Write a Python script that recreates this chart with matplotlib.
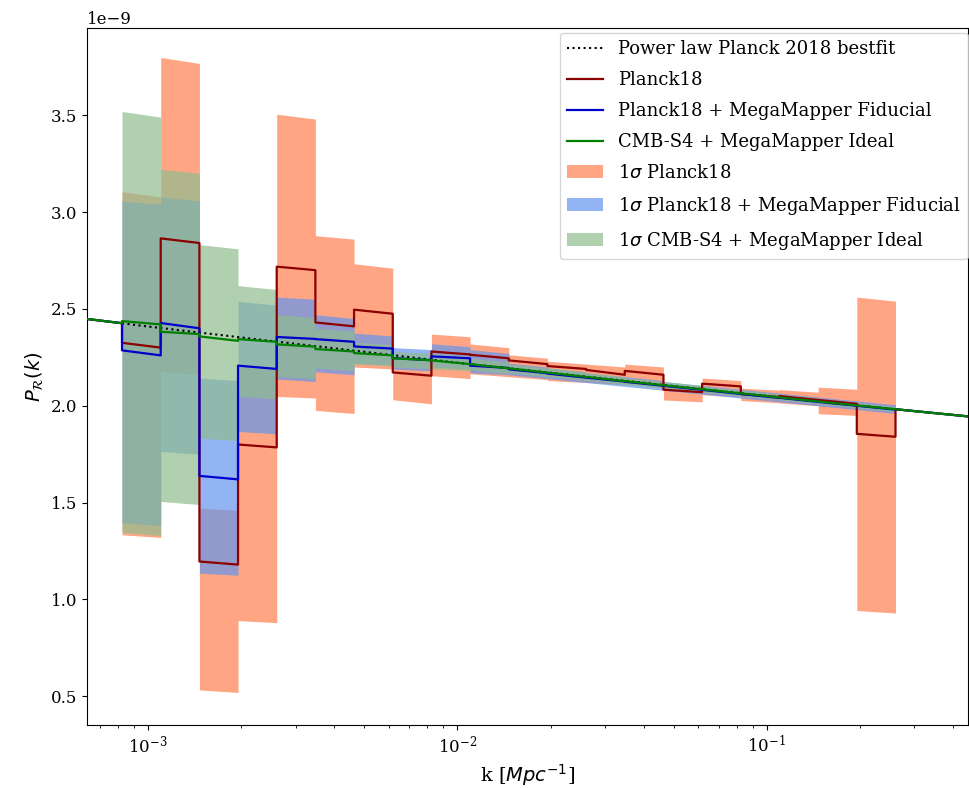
import numpy as np
import matplotlib
matplotlib.use("Agg")
import matplotlib.pyplot as plt

plt.rcParams['font.family'] = 'serif'
plt.rcParams['font.size'] = 12

# bin edges in k [1/Mpc]
k_edges = [8.241e-4, 1.099e-3, 1.466e-3, 1.954e-3, 2.606e-3, 3.475e-3, 4.634e-3,
           6.180e-3, 8.241e-3, 1.099e-2, 1.466e-2, 1.954e-2, 2.606e-2, 3.475e-2,
           4.634e-2, 6.180e-2, 8.241e-2, 0.1099, 0.1466, 0.1954, 0.2606]

# power law best fit, read at a few k values (units 1e-9)
k_fid = [6.35e-4, 8.241e-4, 1e-3, 1e-2, 1e-1, 0.2606, 0.447]
p_fid = [2.448, 2.426, 2.409, 2.222, 2.050, 1.982, 1.945]

# binned reconstructions, (left, right) value per bin, units 1e-9
planck_line = [(2.325, 2.300), (2.864, 2.840), (1.196, 1.180), (1.800, 1.785), (2.718, 2.700),
               (2.430, 2.410), (2.496, 2.475), (2.172, 2.155), (2.280, 2.265), (2.263, 2.245),
               (2.234, 2.215), (2.205, 2.190), (2.185, 2.160), (2.180, 2.160), (2.083, 2.070),
               (2.114, 2.100), (2.060, 2.045), (2.050, 2.030), (2.030, 2.010), (1.855, 1.840)]
mm_line = [(2.286, 2.260), (2.427, 2.400), (1.638, 1.620), (2.207, 2.190), (2.355, 2.345),
           (2.344, 2.330), (2.306, 2.295), (2.246, 2.235), (2.255, 2.245), (2.207, 2.195),
           (2.188, 2.168), (2.166, 2.145), (2.145, 2.125), (2.124, 2.103), (2.103, 2.082),
           (2.082, 2.061), (2.061, 2.040), (2.041, 2.020), (2.020, 2.000), (2.000, 1.980)]
s4_line = [(2.437, 2.420), (2.382, 2.370), (2.358, 2.335), (2.344, 2.330), (2.317, 2.305),
           (2.293, 2.280), (2.272, 2.260), (2.245, 2.235), (2.234, 2.215), (2.215, 2.193),
           (2.193, 2.171), (2.171, 2.149), (2.149, 2.127), (2.127, 2.106), (2.106, 2.085),
           (2.085, 2.064), (2.064, 2.043), (2.043, 2.022), (2.022, 2.002), (2.002, 1.982)]

# 1 sigma bands, (left, right) per bin
planck_lo = [(1.334, 1.320), (2.177, 2.160), (0.533, 0.520), (0.891, 0.880), (2.048, 2.040),
             (1.976, 1.960), (2.200, 2.190), (2.031, 2.010), (2.155, 2.140), (2.165, 2.150),
             (2.150, 2.135), (2.130, 2.120), (2.120, 2.110), (2.115, 2.100), (2.030, 2.020),
             (2.057, 2.045), (2.027, 2.015), (2.014, 2.000), (1.959, 1.950), (0.943, 0.930)]
planck_hi = [(3.105, 3.078), (3.798, 3.767), (1.472, 1.460), (2.200, 2.185), (3.505, 3.480),
             (2.878, 2.860), (2.733, 2.710), (2.250, 2.240), (2.370, 2.356), (2.319, 2.300),
             (2.263, 2.245), (2.230, 2.215), (2.215, 2.200), (2.215, 2.200), (2.100, 2.090),
             (2.143, 2.130), (2.091, 2.080), (2.083, 2.070), (2.096, 2.085), (2.561, 2.540)]
mm_lo = [(1.397, 1.380), (1.764, 1.750), (1.136, 1.125), (1.867, 1.855), (2.138, 2.125),
         (2.175, 2.160), (2.220, 2.210), (2.190, 2.180), (2.200, 2.190), (2.170, 2.160),
         (2.160, 2.140), (2.140, 2.120), (2.120, 2.100), (2.100, 2.080), (2.080, 2.060),
         (2.060, 2.040), (2.040, 2.020), (2.020, 2.000), (2.000, 1.980), (1.980, 1.960)]
mm_hi = [(3.057, 3.040), (3.078, 3.057), (2.143, 2.130), (2.539, 2.520), (2.561, 2.550),
         (2.470, 2.450), (2.375, 2.360), (2.300, 2.290), (2.320, 2.305), (2.290, 2.270),
         (2.220, 2.200), (2.195, 2.175), (2.170, 2.150), (2.150, 2.130), (2.125, 2.105),
         (2.105, 2.085), (2.085, 2.065), (2.065, 2.045), (2.045, 2.025), (2.025, 2.005)]
s4_lo = [(1.346, 1.330), (1.506, 1.490), (1.833, 1.820), (2.048, 2.035), (2.150, 2.140),
         (2.195, 2.180), (2.215, 2.205), (2.200, 2.190), (2.190, 2.180), (2.185, 2.165),
         (2.170, 2.150), (2.150, 2.130), (2.130, 2.110), (2.110, 2.090), (2.090, 2.070),
         (2.070, 2.050), (2.050, 2.030), (2.030, 2.010), (2.010, 1.990), (1.990, 1.970)]
s4_hi = [(3.519, 3.490), (3.221, 3.200), (2.832, 2.810), (2.620, 2.600), (2.470, 2.455),
         (2.400, 2.385), (2.330, 2.315), (2.280, 2.270), (2.270, 2.255), (2.245, 2.225),
         (2.215, 2.195), (2.195, 2.175), (2.170, 2.150), (2.145, 2.125), (2.125, 2.105),
         (2.100, 2.080), (2.080, 2.060), (2.060, 2.040), (2.035, 2.015), (2.015, 1.995)]


def bin_xy(pairs):
    x, y = [], []
    for i, (l, r) in enumerate(pairs):
        x += [k_edges[i], k_edges[i + 1]]
        y += [l, r]
    return np.array(x), np.array(y) * 1e-9


def line_xy(pairs):
    # power law outside the binned range
    x, y = bin_xy(pairs)
    x = np.concatenate([k_fid[:2], x, k_fid[-2:]])
    y = np.concatenate([np.array(p_fid[:2]) * 1e-9, y, np.array(p_fid[-2:]) * 1e-9])
    return x, y


fig = plt.figure(figsize=(9.69, 7.89), dpi=100)
ax = fig.add_axes([87 / 969, 1 - 725 / 789, 881 / 969, 697 / 789])

ax.plot(k_fid[1:-1], np.array(p_fid[1:-1]) * 1e-9, ':', color='black', lw=1.5,
        label='Power law Planck 2018 bestfit', zorder=3)
for pairs, c, lab in [(planck_line, 'darkred', 'Planck18'),
                      (mm_line, 'mediumblue', 'Planck18 + MegaMapper Fiducial'),
                      (s4_line, 'green', 'CMB-S4 + MegaMapper Ideal')]:
    x, y = line_xy(pairs)
    ax.plot(x, y, color=c, lw=1.6, label=lab, zorder=4)

for lo, hi, c, lab in [(planck_lo, planck_hi, 'coral', r'1$\sigma$ Planck18'),
                       (mm_lo, mm_hi, 'cornflowerblue', r'1$\sigma$ Planck18 + MegaMapper Fiducial'),
                       (s4_lo, s4_hi, 'darkseagreen', r'1$\sigma$ CMB-S4 + MegaMapper Ideal')]:
    x, ylo = bin_xy(lo)
    _, yhi = bin_xy(hi)
    ax.fill_between(x, ylo, yhi, color=c, alpha=0.7, lw=0, label=lab)

ax.set_xscale('log')
ax.set_xlim(6.35e-4, 0.447)
ax.set_ylim(0.352e-9, 3.95e-9)
ax.set_xlabel(r'k [$Mpc^{-1}$]', fontsize=14)
ax.set_ylabel(r'$P_\mathcal{R}(k)$', fontsize=14)
ax.legend(loc='upper right', bbox_to_anchor=(1.0, 0.993), borderaxespad=0,
          fontsize=13, labelspacing=0.72)

fig.savefig('out.png', dpi=100)
